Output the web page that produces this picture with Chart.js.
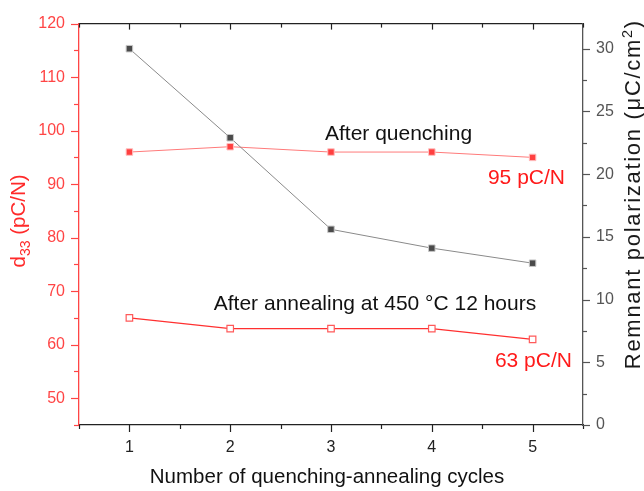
<!DOCTYPE html>
<html>
<head>
<meta charset="utf-8">
<script src="https://cdn.jsdelivr.net/npm/chart.js@4.4.1/dist/chart.umd.min.js"></script>
<style>
  html, body { margin: 0; padding: 0; background: #fff; }
  #wrap { width: 644px; height: 491px; }
</style>
</head>
<body>
<div id="wrap"><canvas id="cyclesChart"></canvas></div>
<script>
// data
const cycles = [1, 2, 3, 4, 5];
const d33Quenched = [96, 97, 96, 96, 95];
const d33Annealed = [65, 63, 63, 63, 61];
const remnantPol = [30, 22.9, 15.6, 14.1, 12.9];

const xTicks = [1, 2, 3, 4, 5];
const d33Ticks = [50, 60, 70, 80, 90, 100, 110, 120];
const polTicks = [0, 5, 10, 15, 20, 25, 30];

const FONT = "'Liberation Sans', Arial, sans-serif";
const RED = '#ff4545';
const GREY = '#555';

const toPoints = (ys) => cycles.map((c, i) => ({ x: c, y: ys[i] }));
const setTicks = (list) => (s) => { s.ticks = list.map(v => ({ value: v })); };

// minor/major tick marks, titles with sub/superscripts, annotations
const decorations = {
  id: 'decorations',
  afterDraw(chart) {
    const { ctx, chartArea: a, scales } = chart;
    const seg = (x1, y1, x2, y2) => { ctx.beginPath(); ctx.moveTo(x1, y1); ctx.lineTo(x2, y2); ctx.stroke(); };
    ctx.save();
    ctx.lineWidth = 1.2;

    ctx.strokeStyle = '#222';
    for (let v = 0.5; v <= 5.5; v += 0.5) {
      const px = Math.round(scales.x.getPixelForValue(v)) + 0.5;
      const major = v % 1 === 0;
      seg(px, a.bottom, px, a.bottom + (major ? 7 : 4));
      seg(px, a.top, px, a.top + (major ? 6 : 4));
    }

    ctx.strokeStyle = RED;
    for (let v = 45; v <= 120; v += 5) {
      const py = Math.round(scales.y.getPixelForValue(v)) + 0.5;
      seg(a.left, py, a.left - (v % 10 === 0 ? 8 : 5), py);
    }

    ctx.strokeStyle = GREY;
    for (let v = 0; v <= 32; v += 2.5) {
      const py = Math.round(scales.y1.getPixelForValue(v)) + 0.5;
      seg(a.right, py, a.right + (v % 5 === 0 ? 7 : 4), py);
    }

    // rich text helper, drawn char by char so each part can get its own spacing
    const rich = (parts, cx, cy, size) => {
      let w = 0;
      parts.forEach(p => {
        ctx.font = (p.s || size) + 'px ' + FONT;
        p.chars = [...p.t].map(ch => ctx.measureText(ch).width + (p.ls || 0));
        p.w = p.chars.reduce((s, v) => s + v, 0);
        w += p.w;
      });
      let x = cx - w / 2;
      ctx.textAlign = 'left';
      ctx.textBaseline = 'alphabetic';
      parts.forEach(p => {
        ctx.font = (p.s || size) + 'px ' + FONT;
        [...p.t].forEach((ch, i) => {
          ctx.fillText(ch, x, cy + (p.dy || 0));
          x += p.chars[i];
        });
      });
    };

    ctx.fillStyle = '#111';
    rich([{ t: 'Number of quenching-annealing cycles' }], 327, 483, 20.5);

    ctx.save();
    ctx.translate(25, 221);
    ctx.rotate(-Math.PI / 2);
    ctx.fillStyle = '#ff2a2a';
    rich([{ t: 'd' }, { t: '33', s: 14, dy: 5 }, { t: ' (pC/N)' }], 0, 0, 20.5);
    ctx.restore();

    ctx.save();
    ctx.translate(640, 195);
    ctx.rotate(-Math.PI / 2);
    ctx.fillStyle = '#1a1a1a';
    rich([
      { t: 'Remnant polarization (μC/cm', ls: 1.7 },
      { t: '2', s: 14.5, dy: -8, ls: 1.7 },
      { t: ')' }
    ], 0, 0, 22);
    ctx.restore();

    // annotations anchored in data space
    const notes = [
      { t: 'After quenching', x: 2.94, y: 98.2, c: '#111' },
      { t: '95 pC/N', x: 4.557, y: 90.1, c: '#ff1a1a' },
      { t: 'After annealing at 450 °C 12 hours', x: 1.837, y: 66.5, c: '#111' },
      { t: '63 pC/N', x: 4.626, y: 55.85, c: '#ff1a1a' }
    ];
    ctx.font = '21px ' + FONT;
    ctx.textAlign = 'left';
    ctx.textBaseline = 'alphabetic';
    notes.forEach(n => {
      ctx.fillStyle = n.c;
      ctx.fillText(n.t, scales.x.getPixelForValue(n.x), scales.y.getPixelForValue(n.y));
    });
    ctx.restore();
  }
};

new Chart(document.getElementById('cyclesChart'), {
  type: 'line',
  data: {
    datasets: [
      {
        label: 'Remnant polarization',
        data: toPoints(remnantPol),
        yAxisID: 'y1',
        borderColor: '#8a8a8a',
        borderWidth: 1,
        pointStyle: 'rect',
        pointRadius: 4.6,
        pointBackgroundColor: '#4a4a4a',
        pointBorderColor: '#c8c8c8',
        pointBorderWidth: 1
      },
      {
        label: 'After quenching',
        data: toPoints(d33Quenched),
        yAxisID: 'y',
        borderColor: '#ff7a7a',
        borderWidth: 1,
        pointStyle: 'rect',
        pointRadius: 4.6,
        pointBackgroundColor: '#ff4040',
        pointBorderColor: '#ffc0c0',
        pointBorderWidth: 1
      },
      {
        label: 'After annealing',
        data: toPoints(d33Annealed),
        yAxisID: 'y',
        borderColor: '#ff3030',
        borderWidth: 1.2,
        pointStyle: 'rect',
        pointRadius: 4.6,
        pointBackgroundColor: '#ffffff',
        pointBorderColor: '#ff5a5a',
        pointBorderWidth: 1.2
      }
    ]
  },
  options: {
    responsive: true,
    maintainAspectRatio: false,
    animation: false,
    layout: { padding: 0 },
    plugins: { legend: { display: false }, tooltip: { enabled: false } },
    scales: {
      x: {
        type: 'linear', position: 'bottom', min: 0.5, max: 5.5,
        afterBuildTicks: setTicks(xTicks),
        afterFit: s => { s.height = 66; },
        grid: { display: false, drawTicks: false },
        border: { color: '#222', width: 1.3 },
        ticks: { padding: 13, color: '#222', font: { family: FONT, size: 16 } }
      },
      x2: {
        type: 'linear', position: 'top', min: 0.5, max: 5.5,
        afterFit: s => { s.height = 19; },
        grid: { display: false, drawTicks: false },
        border: { color: '#222', width: 1.3 },
        ticks: { display: false }
      },
      y: {
        type: 'linear', position: 'left', min: 45, max: 120,
        afterBuildTicks: setTicks(d33Ticks),
        afterFit: s => { s.width = 79; },
        grid: { display: false, drawTicks: false },
        border: { color: RED, width: 1.3 },
        ticks: { padding: 14, color: RED, font: { family: FONT, size: 16 } }
      },
      y1: {
        type: 'linear', position: 'right', min: 0, max: 32,
        afterBuildTicks: setTicks(polTicks),
        afterFit: s => { s.width = 61; },
        grid: { display: false, drawTicks: false },
        border: { color: GREY, width: 1.3 },
        ticks: { padding: 13, color: GREY, font: { family: FONT, size: 16 } }
      }
    }
  },
  plugins: [decorations]
});
</script>
</body>
</html>
